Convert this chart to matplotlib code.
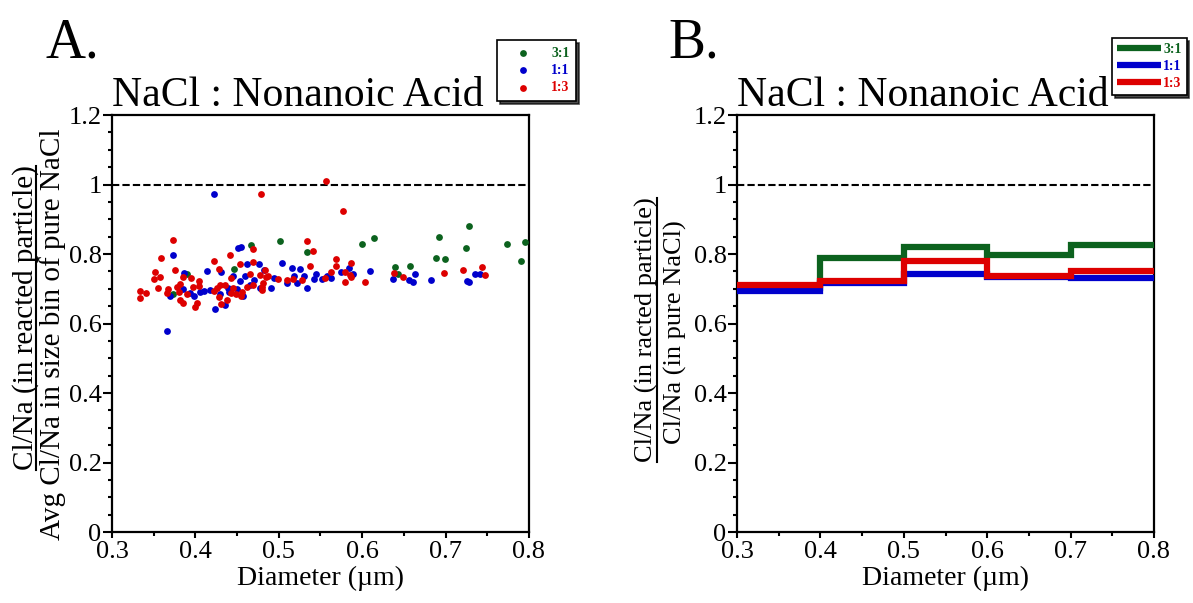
import matplotlib.pyplot as plt
from matplotlib.ticker import MultipleLocator, FormatStrFormatter
from matplotlib.lines import Line2D

plt.rcParams['font.family'] = ['Liberation Serif', 'DejaVu Serif']

green = '#0c621e'
blue = '#0000cc'
red = '#dd0000'

# Panel A: single particles, diameter (um) vs normalised Cl/Na
d31 = [0.4667, 0.501, 0.5338, 0.6002, 0.6145, 0.4459, 0.3903, 0.3735, 0.6393, 0.643,
       0.657, 0.6917, 0.6889, 0.6989, 0.7285, 0.7245, 0.7731, 0.7951, 0.7907]
r31 = [0.825, 0.838, 0.805, 0.829, 0.845, 0.756, 0.742, 0.684, 0.763, 0.742,
       0.767, 0.849, 0.790, 0.786, 0.881, 0.816, 0.829, 0.834, 0.781]

d11 = [0.4227, 0.3663, 0.3731, 0.4507, 0.4547, 0.3867, 0.4135, 0.4307, 0.4622, 0.4763,
       0.5035, 0.5162, 0.5254, 0.5186, 0.5306, 0.5214, 0.5094, 0.5334, 0.5426, 0.5446,
       0.5522, 0.5574, 0.563, 0.5742, 0.5842, 0.5885, 0.6097, 0.6373, 0.6565, 0.3695,
       0.3935, 0.4103, 0.4175, 0.4239, 0.4359, 0.4395, 0.4455, 0.4535, 0.4595, 0.4575,
       0.4706, 0.4775, 0.4827, 0.4906, 0.4939, 0.4299, 0.6605, 0.6633, 0.6825, 0.7253,
       0.7285, 0.7353, 0.7412, 0.405, 0.44, 0.45, 0.465, 0.385, 0.398]
r11 = [0.972, 0.578, 0.798, 0.818, 0.821, 0.746, 0.752, 0.748, 0.772, 0.770,
       0.773, 0.761, 0.758, 0.738, 0.738, 0.717, 0.718, 0.701, 0.727, 0.744,
       0.729, 0.737, 0.732, 0.747, 0.759, 0.742, 0.751, 0.727, 0.725, 0.680,
       0.687, 0.694, 0.696, 0.642, 0.652, 0.703, 0.738, 0.722, 0.737, 0.679,
       0.725, 0.701, 0.754, 0.701, 0.730, 0.685, 0.719, 0.742, 0.724, 0.722,
       0.719, 0.744, 0.744, 0.690, 0.690, 0.700, 0.710, 0.700, 0.680]

d13 = [0.5566, 0.479, 0.5774, 0.3728, 0.359, 0.534, 0.541, 0.469, 0.4415, 0.4227,
       0.454, 0.469, 0.4287, 0.376, 0.352, 0.35, 0.357, 0.3556, 0.3336, 0.333,
       0.341, 0.3675, 0.366, 0.3775, 0.3815, 0.38, 0.382, 0.3847, 0.39, 0.3855,
       0.3947, 0.3975, 0.4043, 0.404, 0.3995, 0.4023, 0.4227, 0.4262, 0.4295, 0.4287,
       0.4303, 0.4375, 0.4359, 0.4427, 0.4455, 0.4423, 0.4487, 0.4547, 0.4559, 0.4615,
       0.4655, 0.4695, 0.4775, 0.4795, 0.48, 0.4815, 0.4835, 0.4847, 0.4875, 0.4987,
       0.5098, 0.5174, 0.528, 0.5374, 0.5554, 0.563, 0.568, 0.5686, 0.5794, 0.5798,
       0.5862, 0.5854, 0.587, 0.6034, 0.638, 0.6493, 0.698, 0.7213, 0.744, 0.7472]
r13 = [1.011, 0.972, 0.925, 0.839, 0.790, 0.837, 0.809, 0.815, 0.796, 0.779,
       0.771, 0.776, 0.758, 0.754, 0.747, 0.728, 0.733, 0.702, 0.693, 0.674,
       0.687, 0.700, 0.688, 0.706, 0.714, 0.690, 0.668, 0.660, 0.685, 0.733,
       0.730, 0.706, 0.721, 0.708, 0.648, 0.658, 0.695, 0.701, 0.711, 0.677,
       0.656, 0.668, 0.711, 0.730, 0.703, 0.689, 0.685, 0.679, 0.692, 0.706,
       0.742, 0.711, 0.740, 0.706, 0.696, 0.716, 0.754, 0.735, 0.737, 0.729,
       0.725, 0.728, 0.725, 0.765, 0.732, 0.749, 0.787, 0.766, 0.748, 0.719,
       0.775, 0.740, 0.735, 0.719, 0.746, 0.733, 0.746, 0.755, 0.762, 0.741]

# Panel B: size-bin averages
edges = [0.3, 0.4, 0.5, 0.6, 0.7, 0.8]
bin31 = [0.703, 0.789, 0.821, 0.797, 0.827]
bin11 = [0.694, 0.716, 0.742, 0.733, 0.732]
bin13 = [0.711, 0.723, 0.781, 0.737, 0.752]

fig = plt.figure(figsize=(11.93, 6.03), dpi=100)
axA = fig.add_axes([0.0939, 0.1177, 0.3495, 0.6915])
axB = fig.add_axes([0.6178, 0.1177, 0.3495, 0.6915])


def style(ax):
    ax.set_xlim(0.3, 0.8)
    ax.set_ylim(0, 1.2)
    ax.xaxis.set_major_locator(MultipleLocator(0.1))
    ax.xaxis.set_minor_locator(MultipleLocator(0.05))
    ax.yaxis.set_major_locator(MultipleLocator(0.2))
    ax.yaxis.set_minor_locator(MultipleLocator(0.05))
    ax.xaxis.set_major_formatter(FormatStrFormatter('%g'))
    ax.yaxis.set_major_formatter(FormatStrFormatter('%g'))
    for s in ax.spines.values():
        s.set_linewidth(1.6)
    ax.tick_params(which='both', direction='out', width=1.5, labelsize=19,
                   top=False, right=False)
    ax.tick_params(axis='y', which='major', length=6.5, pad=1)
    ax.tick_params(axis='y', which='minor', length=3)
    ax.tick_params(axis='x', which='major', length=4.5, pad=2)
    ax.tick_params(axis='x', which='minor', length=3)
    ax.axhline(1.0, color='black', lw=1.5, ls=(0, (3.5, 1.5)), zorder=1)
    ax.set_xlabel('Diameter (µm)', fontsize=20, labelpad=2)
    ax.set_title('NaCl : Nonanoic Acid', fontsize=30, loc='left', pad=5)


style(axA)
style(axB)

axA.scatter(d31, r31, s=24, color=green, label='3:1', zorder=3, linewidths=0)
axA.scatter(d11, r11, s=24, color=blue, label='1:1', zorder=3, linewidths=0)
axA.scatter(d13, r13, s=24, color=red, label='1:3', zorder=3, linewidths=0)

axB.stairs(bin31, edges, baseline=None, color=green, lw=4.5, label='3:1', zorder=3)
axB.stairs(bin11, edges, baseline=None, color=blue, lw=4.5, label='1:1', zorder=3)
axB.stairs(bin13, edges, baseline=None, color=red, lw=4.5, label='1:3', zorder=3)

legA = axA.legend(loc='upper left', bbox_to_anchor=(497 / 1193, 1 - 40 / 603),
                  bbox_transform=fig.transFigure, borderaxespad=0,
                  prop={'weight': 'bold', 'size': 10},
                  handlelength=2.8, handletextpad=0.6, labelspacing=0.3,
                  borderpad=0.5, fancybox=False, edgecolor='black', framealpha=1,
                  shadow={'color': 'black', 'alpha': 0.7})
legA.get_frame().set_linewidth(1.2)
for t, c in zip(legA.get_texts(), [green, blue, red]):
    t.set_color(c)

line_handles = [Line2D([], [], color=c, lw=4.5, solid_capstyle='butt')
                for c in [green, blue, red]]
legB = axB.legend(line_handles, ['3:1', '1:1', '1:3'], loc='upper left',
                  bbox_to_anchor=(1112 / 1193, 1 - 38 / 603),
                  bbox_transform=fig.transFigure, borderaxespad=0,
                  prop={'weight': 'bold', 'size': 10},
                  handlelength=3.2, handletextpad=0.15, labelspacing=0.3,
                  borderpad=0.35, fancybox=False, edgecolor='black', framealpha=1,
                  shadow={'color': 'black', 'alpha': 0.7})
legB.get_frame().set_linewidth(1.2)
for t, c in zip(legB.get_texts(), [green, blue, red]):
    t.set_color(c)

# panel letters
fig.text(45 / 1193, 1 - 57 / 603, 'A.', fontsize=40, va='baseline')
fig.text(668 / 1193, 1 - 57 / 603, 'B.', fontsize=40, va='baseline')

# stacked-fraction y labels (anchored on the baselines)
lab = dict(rotation=90, rotation_mode='anchor', ha='center', va='baseline')
numA = fig.text(33 / 1193, 1 - 318 / 603, 'Cl/Na (in reacted particle)',
                fontsize=21, **lab)
fig.text(60 / 1193, 1 - 334 / 603, 'Avg Cl/Na in size bin of pure NaCl',
         fontsize=21, **lab)
numB = fig.text(653 / 1193, 1 - 330 / 603, 'Cl/Na (in racted particle)',
                fontsize=19, **lab)
fig.text(682 / 1193, 1 - 332 / 603, 'Cl/Na (in pure NaCl)', fontsize=19, **lab)

fig.canvas.draw()
r = fig.canvas.get_renderer()
for txt, xl in [(numA, 36), (numB, 657)]:
    bb = txt.get_window_extent(r)
    fig.add_artist(Line2D([xl / 1193, xl / 1193],
                          [bb.y0 / fig.bbox.height, bb.y1 / fig.bbox.height],
                          transform=fig.transFigure, color='black', lw=1.5))

fig.savefig('out.png', dpi=100)
